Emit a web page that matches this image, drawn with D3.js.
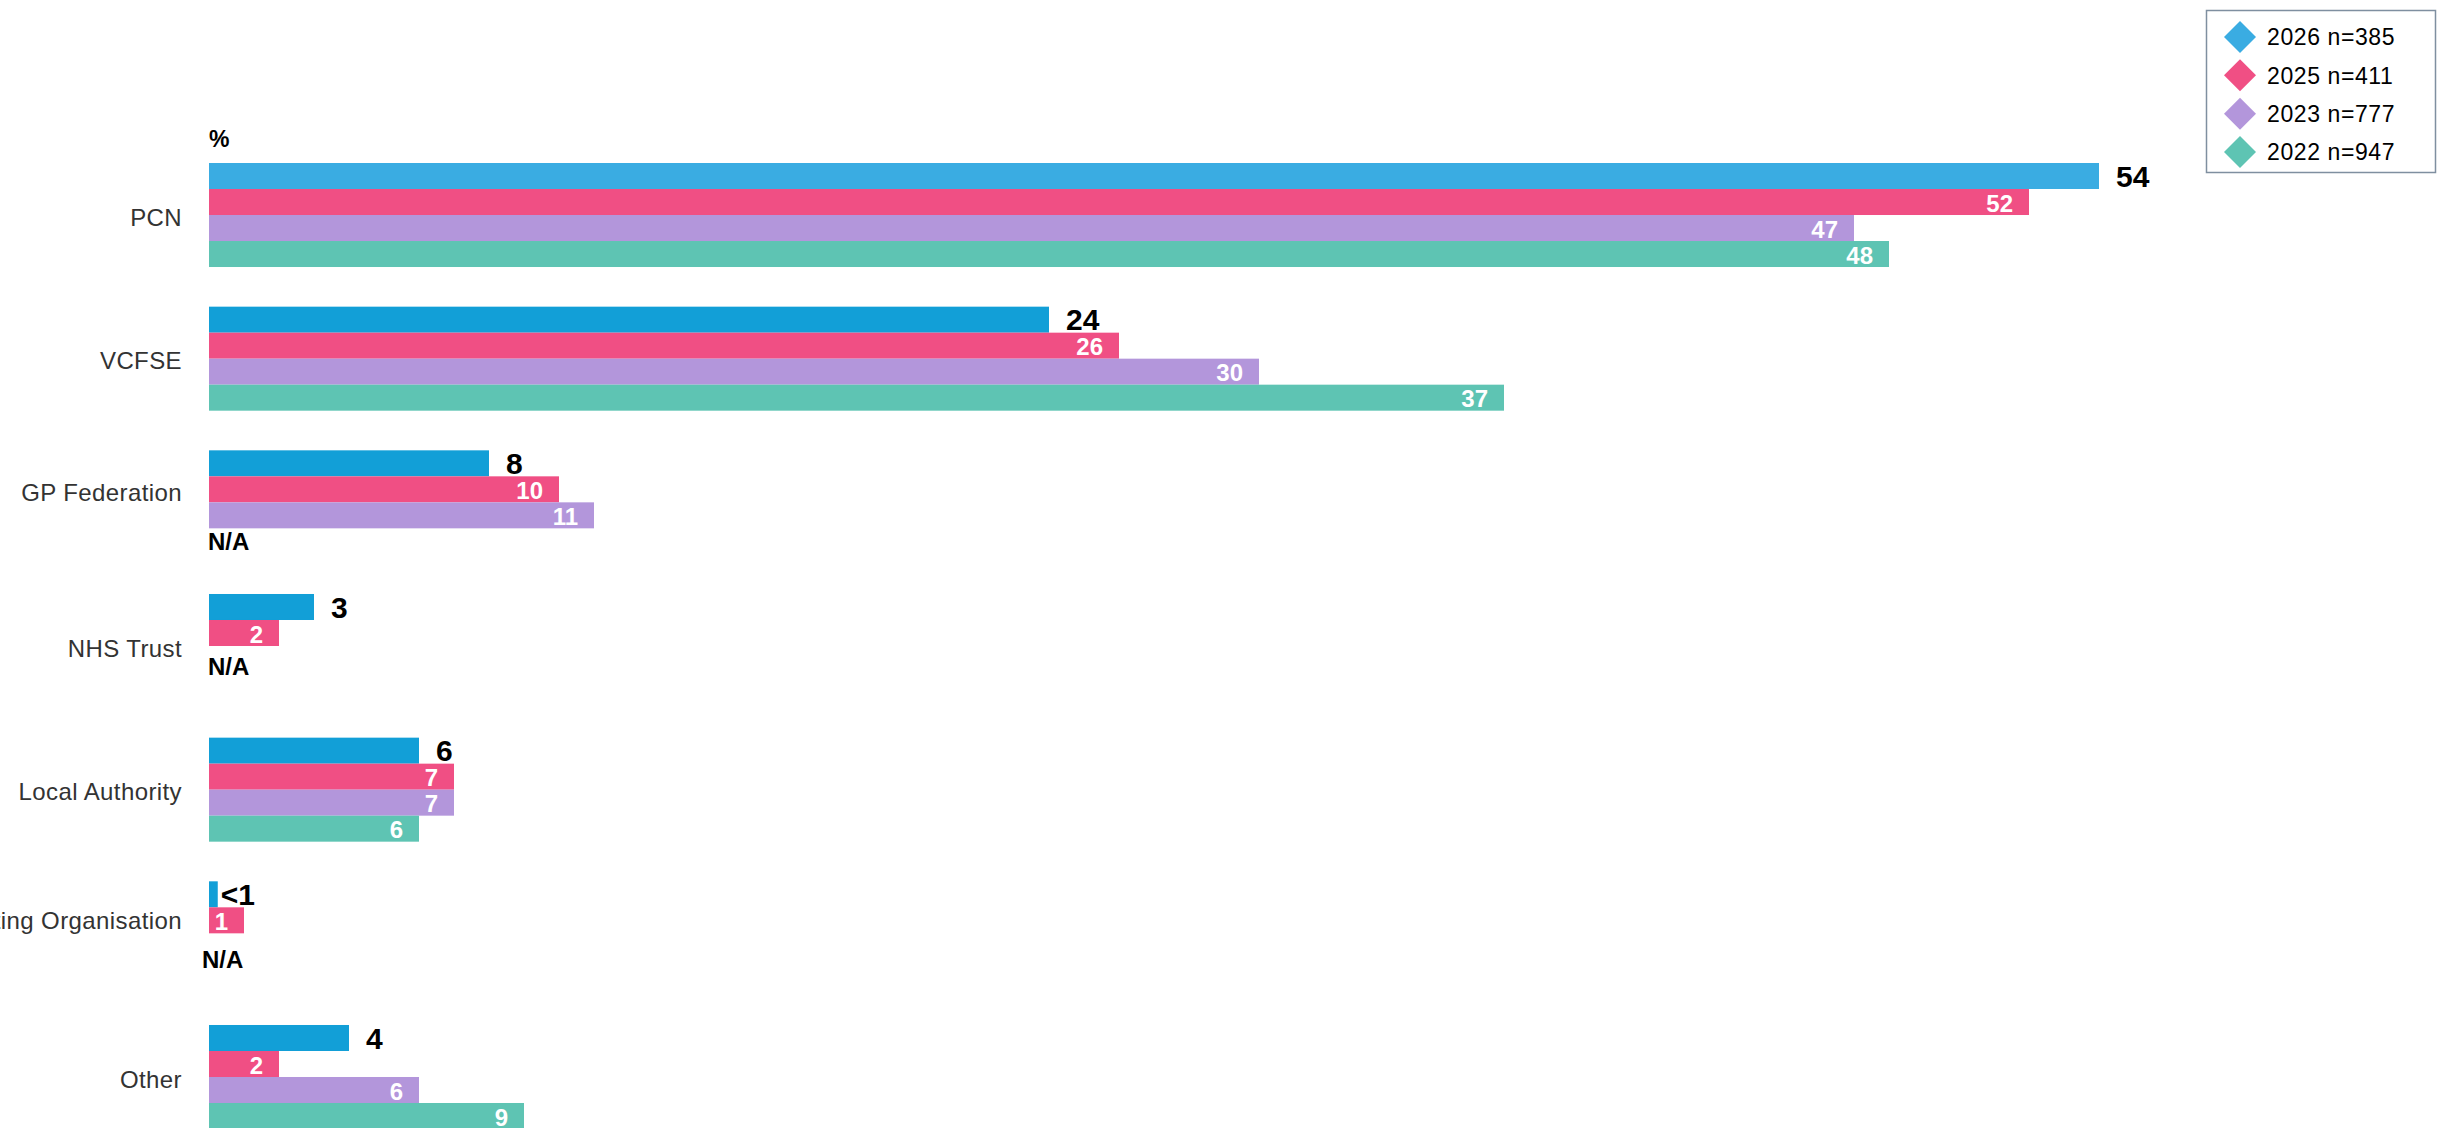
<!DOCTYPE html>
<html>
<head>
<meta charset="utf-8">
<script src="https://cdn.jsdelivr.net/npm/d3@7"></script>
<style>
  html, body { margin: 0; padding: 0; background: #ffffff; }
  svg { display: block; }
  text { font-family: "Liberation Sans", Arial, sans-serif; }
</style>
</head>
<body>
<svg id="chart" width="2437" height="1128"></svg>
<script>
// ---------- data ----------
const categories = ["PCN", "VCFSE", "GP Federation", "NHS Trust", "Local Authority", "Hosting Organisation", "Other"];
const seriesNames = ["2026", "2025", "2023", "2022"];
const legendLabels = ["2026 n=385", "2025 n=411", "2023 n=777", "2022 n=947"];
const values2026 = [54, 24, 8, 3, 6, 0.25, 4];
const values2025 = [52, 26, 10, 2, 7, 1, 2];
const values2023 = [47, 30, 11, null, 7, null, 6];
const values2022 = [48, 37, null, null, 6, null, 9];
const labels2026 = ["54", "24", "8", "3", "6", "<1", "4"];
const naCategories = ["GP Federation", "NHS Trust", "Hosting Organisation"];
const seriesColors = ["#129fd7", "#f04f84", "#b396db", "#5ec4b3"];
const legendColors = ["#3aace2", "#f04f84", "#b396db", "#5ec4b3"];

const seriesValues = [values2026, values2025, values2023, values2022];

// ---------- scales ----------
const svg = d3.select("#chart");
const x = d3.scaleLinear().domain([0, 54]).range([209, 2099]);
const y = d3.scaleBand().domain(categories).range([163, 1129]).paddingInner(0.276).paddingOuter(0);
const ySub = d3.scaleBand().domain(seriesNames).range([0, y.bandwidth()]).padding(0);

// ---------- bars ----------
seriesNames.forEach((s, si) => {
  const data = categories.map((c, ci) => ({ c, ci, v: seriesValues[si][ci] })).filter(d => d.v != null);
  const g = svg.append("g");
  g.selectAll("rect")
    .data(data)
    .join("rect")
    .attr("x", x(0))
    .attr("y", d => y(d.c) + ySub(s))
    .attr("width", d => x(d.v) - x(0))
    .attr("height", ySub.bandwidth())
    .attr("fill", d => (si === 0 && d.ci === 0) ? legendColors[0] : seriesColors[si]);

  if (si === 0) {
    g.selectAll("text")
      .data(data)
      .join("text")
      .attr("x", d => x(d.v) + (d.v < 1 ? 3 : 17))
      .attr("y", d => y(d.c) + ySub(s) + ySub.bandwidth() / 2 + 0.358 * 30)
      .attr("font-size", 30)
      .attr("font-weight", "bold")
      .attr("fill", "#000")
      .text(d => labels2026[d.ci]);
  } else {
    g.selectAll("text")
      .data(data)
      .join("text")
      .attr("x", d => x(d.v) - 16)
      .attr("y", d => y(d.c) + ySub(s) + ySub.bandwidth() / 2 + 0.358 * 24 + 1)
      .attr("text-anchor", "end")
      .attr("font-size", 24)
      .attr("font-weight", "bold")
      .attr("fill", "#ffffff")
      .text(d => String(d.v));
  }
});

// ---------- N/A annotations ----------
svg.append("g").selectAll("text")
  .data(naCategories)
  .join("text")
  .attr("x", (d, i) => i === 2 ? x(0) - 7 : x(0) - 1)
  .attr("y", (d, i) => {
    const cy = i === 0
      ? y(d) + ySub("2022") + ySub.bandwidth() / 2
      : y(d) + ySub("2022") - (i === 1 ? 6 : 0);
    return cy + 0.358 * 24;
  })
  .attr("font-size", 24)
  .attr("font-weight", "bold")
  .attr("fill", "#000")
  .text("N/A");

// ---------- category axis labels ----------
const labelShift = { "GP Federation": -12, "Hosting Organisation": -15 };
svg.append("g").selectAll("text")
  .data(categories)
  .join("text")
  .attr("x", 182)
  .attr("y", d => y(d) + y.bandwidth() / 2 + 0.358 * 24 + 2 + (labelShift[d] || 0))
  .attr("text-anchor", "end")
  .attr("font-size", 24)
  .attr("letter-spacing", 0.4)
  .attr("fill", "#333333")
  .text(d => d);

// ---------- % unit ----------
svg.append("text")
  .attr("x", x(0))
  .attr("y", 147)
  .attr("font-size", 23)
  .attr("font-weight", "bold")
  .attr("fill", "#000")
  .text("%");

// ---------- legend ----------
const legend = svg.append("g");
legend.append("rect")
  .attr("x", 2206.5).attr("y", 10.5)
  .attr("width", 229).attr("height", 162)
  .attr("fill", "#ffffff")
  .attr("stroke", "#7f8fa0")
  .attr("stroke-width", 1.5);

const legendY = d3.scalePoint().domain(seriesNames).range([37, 152]);
const items = legend.selectAll("g.item")
  .data(seriesNames)
  .join("g")
  .attr("class", "item")
  .attr("transform", d => `translate(2240,${legendY(d)})`);
items.append("path")
  .attr("d", "M0,-16 L16,0 L0,16 L-16,0 Z")
  .attr("fill", (d, i) => legendColors[i]);
items.append("text")
  .attr("x", 27)
  .attr("y", 0.358 * 23)
  .attr("font-size", 23)
  .attr("letter-spacing", 0.6)
  .attr("fill", "#000")
  .text((d, i) => legendLabels[i]);
</script>
</body>
</html>
